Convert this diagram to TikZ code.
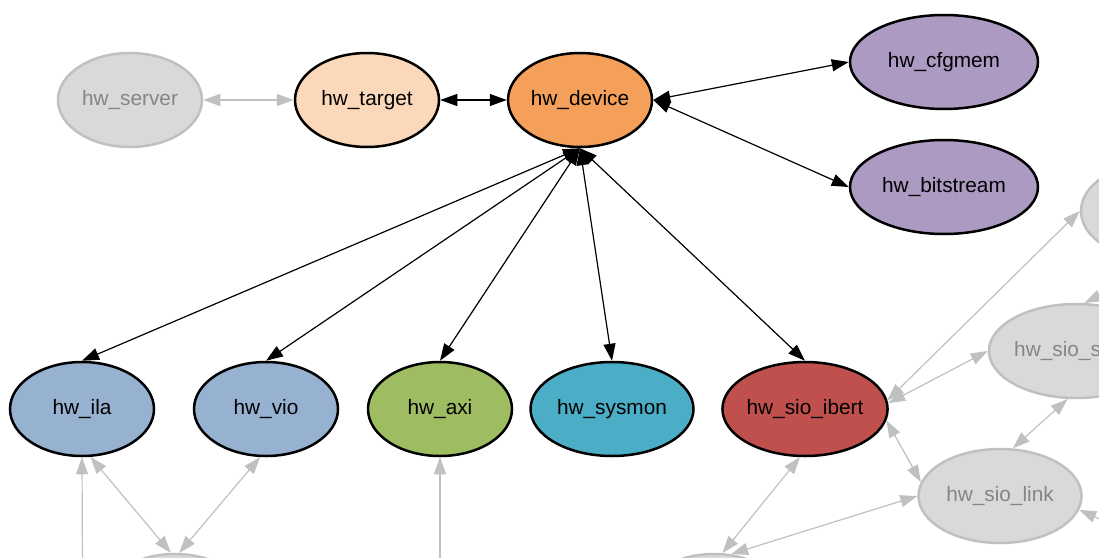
\documentclass[tikz,border=0pt]{standalone}
\usepackage{fontspec}
\setmainfont{Liberation Sans}
\usetikzlibrary{arrows.meta,shapes.geometric}
\definecolor{gfill}{HTML}{D9D9D9}
\definecolor{gline}{HTML}{C0C0C0}
\definecolor{gtext}{HTML}{858585}
\definecolor{ctarget}{HTML}{FBD8BA}
\definecolor{cdevice}{HTML}{F5A05A}
\definecolor{cpurple}{HTML}{AD9AC3}
\definecolor{cblue}{HTML}{97B2D1}
\definecolor{cgreen}{HTML}{9EBC61}
\definecolor{caqua}{HTML}{4BADC6}
\definecolor{cred}{HTML}{C0504D}
\begin{document}
\begin{tikzpicture}[x=1pt,y=-1pt,
  nd/.style={ellipse, line width=2.5pt, inner sep=0pt, minimum width=144pt, minimum height=94pt,
    font=\fontsize{20.8}{24}\selectfont},
  blk/.style={nd, draw=black, text=black},
  gry/.style={nd, draw=gline, fill=gfill, text=gtext},
  tip/.tip={Triangle[length=17pt,width=12pt]},
  edge/.style={line width=1.2pt, black, tip-tip},
  gedge/.style={line width=1.2pt, gline, tip-tip},
  gone/.style={line width=1.2pt, gline, -tip},
  lbl/.style={inner sep=0pt, font=\fontsize{20.8}{24}\selectfont}]
\useasboundingbox (0,0) rectangle (1099,557);
\clip (0,0) rectangle (1099,557);
% top row
\node[gry] (server) at (130,100) {hw\_server};
\node[blk, fill=ctarget] (target) at (367,100) {hw\_target};
\node[blk, fill=cdevice] (device) at (580,100) {hw\_device};
\node[blk, fill=cpurple, minimum width=188pt] (cfgmem) at (944,62) {hw\_cfgmem};
\node[blk, fill=cpurple, minimum width=188pt] (bitstream) at (944,187) {hw\_bitstream};
% middle row
\node[blk, fill=cblue] (ila) at (82,409) {hw\_ila};
\node[blk, fill=cblue] (vio) at (266,409) {hw\_vio};
\node[blk, fill=cgreen] (axi) at (440,409) {hw\_axi};
\node[blk, fill=caqua, minimum width=163pt] (sysmon) at (612,409) {hw\_sysmon};
\node[blk, fill=cred, minimum width=163pt] (ibert) at (805,409) {hw\_sio\_ibert};
% right and bottom (partly outside)
\node[gry] (topright) at (1153,211) {};
\node[gry, minimum width=174pt] (sios) at (1076,351) {};
\node[lbl, text=gtext, anchor=west] (siostext) at (1014,351) {hw\_sio\_s};
\node[gry, minimum width=163pt] (link) at (1000,496) {hw\_sio\_link};
\node[gry] (botL) at (175,601) {};
\node[gry] (botR) at (714,601) {};
\coordinate (offA) at (83,680);
\coordinate (offB) at (440,680);
\coordinate (offC) at (1250,224);
\coordinate (offD) at (1250,585);
% edges
\draw[gedge] (server.east) -- (target.west);
\draw[edge] (target.east) -- (device.west);
\draw[edge] (device.east) -- (cfgmem.west);
\draw[edge] (device.east) -- (bitstream.west);
\draw[edge] (device.south) -- (ila.north);
\draw[edge] (device.south) -- (vio.north);
\draw[edge] (device.south) -- (axi.north);
\draw[edge] (device.south) -- (sysmon.north);
\draw[edge] (device.south) -- (ibert.north);
% gray edges
\draw[gone] (offA) -- (ila.south);
\draw[gedge] (ila.-80) -- (botL.95);
\draw[gedge] (vio.-97) -- (botL.85);
\draw[gone] (offB) -- (axi.south);
\draw[gedge] (ibert.-96) -- (botR.80);
\draw[gedge] (link.west) -- (botR.70);
\draw[gedge] (ibert.6) -- (topright.west);
\draw[gedge] (ibert.4) -- (sios.west);
\draw[gedge] (ibert.-8) -- (link.170);
\draw[gedge] (sios.-100) -- (link.75);
\draw[gone] (offC) -- (sios.80);
\draw[gone] (offD) -- (link.-10);
\end{tikzpicture}
\end{document}
